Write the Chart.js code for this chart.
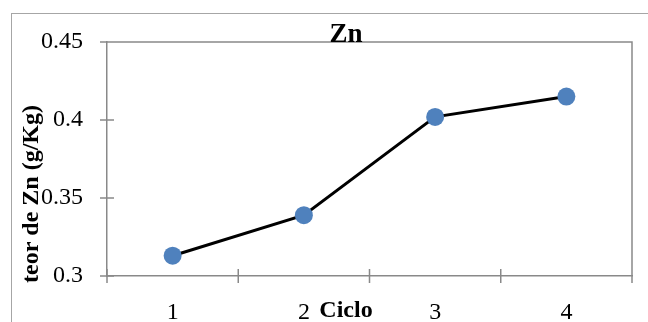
<!DOCTYPE html>
<html>
<head>
<meta charset="utf-8">
<script src="https://cdn.jsdelivr.net/npm/chart.js@4.4.1/dist/chart.umd.min.js"></script>
<style>
  html, body { margin: 0; padding: 0; background: #fff; }
  body { width: 648px; height: 322px; overflow: hidden; position: relative; }
  /* outer chart border, the right and bottom sides fall outside the window */
  #frame { position: absolute; left: 11px; top: 13px; border: 1px solid #a6a6a6; }
  canvas { display: block; }
</style>
</head>
<body>
<div id="frame"><canvas id="znChart" width="668" height="312"></canvas></div>
<script>
// === Chart data ===
const cycles = ["1", "2", "3", "4"];
const znValues = [0.313, 0.339, 0.402, 0.415];
const yTickValues = [0.3, 0.35, 0.4, 0.45];
const yTickLabels = ["0.3", "0.35", "0.4", "0.45"];
const chartTitle = "Zn";
const xTitle = "Ciclo";
const yTitle = "teor de Zn (g/Kg)";

const axisColor = "#898989";
const titleFont = 'bold 24px "Liberation Serif", "Times New Roman", serif';
Chart.defaults.font.family = '"Liberation Serif", "Times New Roman", serif';
Chart.defaults.color = "#000";

// === Plot frame, crossing tick marks and the axis titles ===
const plotFrame = {
  id: "plotFrame",
  beforeDraw(chart) {
    const { ctx, chartArea: a, scales } = chart;
    ctx.save();
    ctx.strokeStyle = axisColor;
    ctx.lineWidth = 1.5;
    ctx.beginPath();
    ctx.moveTo(a.left, a.top);
    ctx.lineTo(a.right, a.top);
    ctx.lineTo(a.right, a.bottom);
    scales.y.ticks.forEach((t, i) => {
      const py = scales.y.getPixelForTick(i);
      ctx.moveTo(a.left - 7, py);
      ctx.lineTo(a.left + 7, py);
    });
    const step = scales.x.width / cycles.length; // ticks sit between categories
    for (let i = 0; i <= cycles.length; i++) {
      const px = scales.x.left + i * step;
      ctx.moveTo(px, a.bottom - 7);
      ctx.lineTo(px, a.bottom + 7);
    }
    ctx.stroke();
    ctx.restore();
  },
  afterDraw(chart) {
    const { ctx, chartArea: a } = chart;
    ctx.save();
    ctx.font = titleFont;
    ctx.fillStyle = "#000";
    ctx.textAlign = "center";
    ctx.textBaseline = "middle";
    // x title is centred on the whole chart, like the main title
    ctx.fillText(xTitle, chart.width / 2, a.bottom + 35);
    ctx.translate(a.left - 75, a.bottom - 82);
    ctx.rotate(-Math.PI / 2);
    ctx.fillText(yTitle, 0, 0);
    ctx.restore();
  },
};

new Chart(document.getElementById("znChart"), {
  type: "line",
  data: {
    labels: cycles,
    datasets: [
      {
        data: znValues,
        borderColor: "#000",
        borderWidth: 3,
        tension: 0,
        pointRadius: 9,
        pointBackgroundColor: "#4f81bd",
        pointBorderWidth: 0,
      },
    ],
  },
  options: {
    responsive: false,
    animation: false,
    layout: { padding: 0, autoPadding: false },
    scales: {
      x: {
        offset: true,
        // hidden tick marks only set the gap before the labels
        grid: { display: false, drawTicks: true, tickLength: 22.6, offset: true },
        border: { display: true, color: axisColor, width: 1.5 },
        ticks: { font: { size: 24 }, padding: 0, maxRotation: 0 },
        afterFit: (s) => { s.height = 50; },
      },
      y: {
        min: 0.3,
        max: 0.45,
        afterBuildTicks: (s) => { s.ticks = yTickValues.map((v) => ({ value: v })); },
        grid: { display: false, drawTicks: true, tickLength: 24 },
        border: { display: true, color: axisColor, width: 1.5 },
        ticks: { font: { size: 24 }, padding: 0, callback: (v, i) => yTickLabels[i] },
        afterFit: (s) => { s.width = 95; },
      },
      // empty right-hand axis, keeps the right margin of the plot
      y2: {
        position: "right",
        grid: { display: false, drawTicks: false },
        border: { display: false },
        ticks: { display: false },
        afterFit: (s) => { s.width = 48; },
      },
    },
    plugins: {
      legend: { display: false },
      tooltip: { enabled: false },
      title: {
        display: true,
        text: chartTitle,
        font: { size: 27, weight: "bold", lineHeight: 0.667 },
        padding: { top: 12, bottom: -2 },
      },
    },
  },
  plugins: [plotFrame],
});
</script>
</body>
</html>
